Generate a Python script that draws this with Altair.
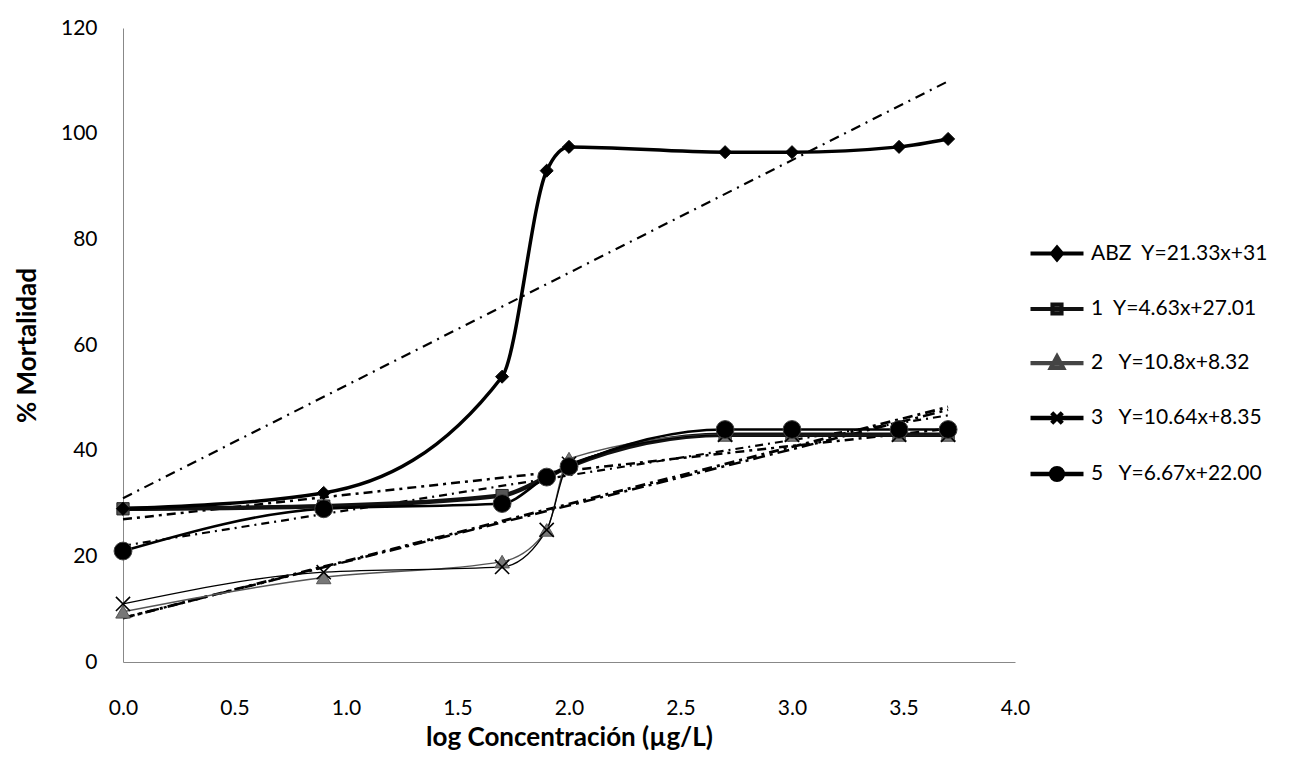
import altair as alt
import pandas as pd

# ---- data ----
x_vals = [0.0, 0.9, 1.7, 1.9, 2.0, 2.7, 3.0, 3.48, 3.7]
series = ["ABZ", "1", "2", "3", "5"]
y_abz = [29, 32, 54, 93, 97.5, 96.5, 96.5, 97.5, 99]
y_1 = [29, 29.5, 31.5, 35, 37, 43, 43, 43, 43]
y_2 = [9.5, 16, 19, 25, 38.5, 43, 43, 43, 43]
y_3 = [11, 17, 18, 25, 37.5, 43, 43, 43, 43]
y_5 = [21, 29, 30, 35, 37, 44, 44, 44, 44]
slopes = [21.33, 4.63, 10.8, 10.64, 6.67]
intercepts = [31.0, 27.01, 8.32, 8.35, 22.00]
legend_labels = [
    "ABZ\u00a0\u00a0Y=21.33x+31",
    "1\u00a0\u00a0Y=4.63x+27.01",
    "2\u00a0\u00a0\u00a0Y=10.8x+8.32",
    "3\u00a0\u00a0\u00a0Y=10.64x+8.35",
    "5\u00a0\u00a0\u00a0Y=6.67x+22.00",
]
x_ticks = [0.0, 0.5, 1.0, 1.5, 2.0, 2.5, 3.0, 3.5, 4.0]
y_ticks = [0, 20, 40, 60, 80, 100, 120]

ys = {"ABZ": y_abz, "1": y_1, "2": y_2, "3": y_3, "5": y_5}
df = pd.DataFrame(
    [{"serie": s, "x": x, "y": y} for s in series for x, y in zip(x_vals, ys[s])]
)
x_lo, x_hi = min(x_vals), max(x_vals)
trend = pd.DataFrame(
    [
        {"serie": s, "x": xx, "y": m * xx + b}
        for s, m, b in zip(series, slopes, intercepts)
        for xx in (x_lo, x_hi)
    ]
)
legend_df = pd.DataFrame({"label": legend_labels})

# ---- styles ----
FONT = "Lato"
line_style = {
    "ABZ": dict(color="#000000", strokeWidth=3.5),
    "1": dict(color="#111111", strokeWidth=4.5),
    "2": dict(color="#555555", strokeWidth=1.4),
    "3": dict(color="#000000", strokeWidth=1.3),
    "5": dict(color="#000000", strokeWidth=2.6),
}
trend_style = {
    "ABZ": dict(strokeWidth=2.2, strokeDash=[10, 6, 2, 6]),
    "1": dict(strokeWidth=2.5, strokeDash=[9, 5, 3, 5]),
    "2": dict(strokeWidth=2.8, strokeDash=[10, 5, 3, 5]),
    "3": dict(strokeWidth=2.5, strokeDash=[12, 5, 3, 5]),
    "5": dict(strokeWidth=2.2, strokeDash=[8, 5, 2, 5]),
}
X_PATH = "M-1,-1L1,1M-1,1L1,-1"
point_style = {
    "ABZ": dict(shape="diamond", size=170, filled=True, fill="#000000", stroke="#000000", strokeWidth=1),
    "1": dict(shape="square", size=150, filled=True, fill="#555555", stroke="#222222", strokeWidth=1),
    "2": dict(shape="triangle-up", size=210, filled=True, fill="#777777", stroke="#555555", strokeWidth=1),
    "3": dict(shape=X_PATH, size=200, filled=False, stroke="#000000", strokeWidth=1.6),
    "5": dict(shape="circle", size=320, filled=True, fill="#000000", stroke="#444444", strokeWidth=1),
}
draw_order = ["1", "2", "3", "5", "ABZ"]

legend_shapes = [
    "M-1,0H1M0,-0.22L0.19,0L0,0.22L-0.19,0Z",
    "M-1,0H1M-0.17,-0.17H0.17V0.17H-0.17Z",
    "M-1,0H1M0,-0.24L0.23,0.18H-0.23Z",
    "M-1,0H1M-0.2,-0.2L0.2,0.2M-0.2,0.2L0.2,-0.2",
    "M-1,0H1M-0.22,0A0.22,0.22 0 1 0 0.22,0A0.22,0.22 0 1 0 -0.22,0Z",
]
legend_fills = ["#000000", "#666666", "#777777", "transparent", "#000000"]
legend_strokes = ["#000000", "#111111", "#444444", "#000000", "#000000"]
legend_widths = [4, 4.5, 1.4, 1.6, 3]

x_enc = alt.X(
    "x:Q",
    scale=alt.Scale(domain=[0, 4], nice=False),
    axis=alt.Axis(
        values=x_ticks, format=".1f", ticks=False, grid=False, labelFlush=False,
        domainColor="#888888", labelFontSize=21, labelPadding=35,
        title="log Concentración (µg/L)", titleFontSize=26, titleFontWeight="bold",
        titlePadding=6,
    ),
)
y_enc = alt.Y(
    "y:Q",
    scale=alt.Scale(domain=[0, 120], nice=False),
    axis=alt.Axis(
        values=y_ticks, ticks=False, grid=False, labelFlush=False, domainColor="#888888",
        labelFontSize=21, labelPadding=26,
        title="% Mortalidad", titleFontSize=26, titleFontWeight="bold",
        titlePadding=20,
    ),
)

layers = []
for s in series:
    layers.append(
        alt.Chart(trend)
        .transform_filter(alt.datum.serie == s)
        .mark_line(color="#000000", **trend_style[s])
        .encode(x=x_enc, y=y_enc)
    )
for s in draw_order:
    layers.append(
        alt.Chart(df)
        .transform_filter(alt.datum.serie == s)
        .mark_line(interpolate="monotone", **line_style[s])
        .encode(x=x_enc, y=y_enc)
    )
for s in draw_order:
    layers.append(
        alt.Chart(df)
        .transform_filter(alt.datum.serie == s)
        .mark_point(opacity=1, **point_style[s])
        .encode(x=x_enc, y=y_enc)
    )

leg = alt.Legend(
    title=None, orient="none", legendX=905, legendY=197,
    labelFont=FONT, labelFontSize=21, labelColor="#000000", labelLimit=400,
    symbolSize=2809, labelOffset=5, rowPadding=12, padding=0,
)
legend_layer = (
    alt.Chart(legend_df)
    .transform_filter("false")
    .mark_point(filled=True, opacity=1)
    .encode(
        shape=alt.Shape("label:N", scale=alt.Scale(domain=legend_labels, range=legend_shapes), legend=leg),
        fill=alt.Fill("label:N", scale=alt.Scale(domain=legend_labels, range=legend_fills), legend=leg),
        stroke=alt.Stroke("label:N", scale=alt.Scale(domain=legend_labels, range=legend_strokes), legend=leg),
        strokeWidth=alt.StrokeWidth("label:N", scale=alt.Scale(domain=legend_labels, range=legend_widths), legend=leg),
    )
)
layers.append(legend_layer)

chart = (
    alt.layer(*layers)
    .properties(
        width=892, height=634,
        padding={"left": 115, "top": 20, "right": 270, "bottom": 100},
        autosize=alt.AutoSizeParams(type="none"),
        background="white",
    )
    .configure_view(stroke="transparent")
    .configure_axis(labelFont=FONT, titleFont=FONT, labelColor="#000000", titleColor="#000000")
)

chart.save("out.html", embed_options={"renderer": "svg", "actions": False})
